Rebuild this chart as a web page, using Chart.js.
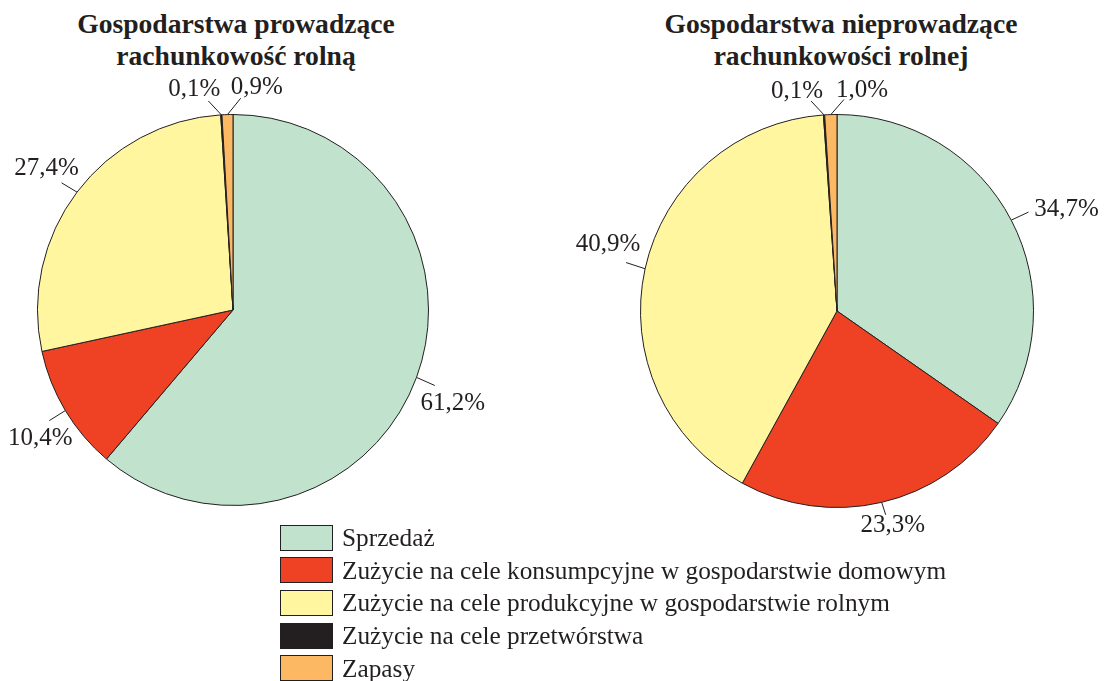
<!DOCTYPE html>
<html lang="pl">
<head>
  <meta charset="UTF-8">
  <title>Struktura rozdysponowania produkcji</title>
  <script src="https://cdn.jsdelivr.net/npm/chart.js"></script>
  <style>
    body {
      margin: 0;
      width: 1105px;
      height: 681px;
      background: #fff;
      color: #231f20;
      font-family: "Liberation Serif", "Times New Roman", serif;
      position: relative;
      overflow: hidden;
    }
    canvas { position: absolute; top: 0; }
    #leftChart { left: 0; }
    #rightChart { left: 552px; }
    .title {
      position: absolute;
      top: 8px;
      width: 440px;
      text-align: center;
      font-weight: bold;
      font-size: 27.6px;
      line-height: 32px;
    }
    .legend {
      position: absolute;
      left: 280px;
      top: 524px;
    }
    .legend-row {
      display: flex;
      align-items: center;
      height: 27px;
      margin-bottom: 5.7px;
      font-size: 25.3px;
      white-space: nowrap;
    }
    .legend-box {
      width: 51px;
      height: 24px;
      border: 1.5px solid #231f20;
      margin-right: 9px;
      flex: none;
    }
  </style>
</head>
<body>
  <div class="title" id="leftTitle" style="left:16px;"></div>
  <div class="title" id="rightTitle" style="left:621px;"></div>
  <canvas id="leftChart" width="552" height="681"></canvas>
  <canvas id="rightChart" width="553" height="681"></canvas>
  <div class="legend" id="legend"></div>

  <script>
    const categories = [
      "Sprzedaż",
      "Zużycie na cele konsumpcyjne w gospodarstwie domowym",
      "Zużycie na cele produkcyjne w gospodarstwie rolnym",
      "Zużycie na cele przetwórstwa",
      "Zapasy"
    ];
    const withAccounting = [61.2, 10.4, 27.4, 0.1, 0.9];
    const withoutAccounting = [34.7, 23.3, 40.9, 0.1, 1.0];
    const leftTitle = ["Gospodarstwa prowadzące", "rachunkowość rolną"];
    const rightTitle = ["Gospodarstwa nieprowadzące", "rachunkowości rolnej"];

    const colors = ["#c1e3cd", "#ef4123", "#fff69f", "#231f20", "#fdb863"];
    const ink = "#231f20";

    // leader direction (deg clockwise from up), leader length, text offset dx, dy
    const leftLabelLayout = [[114, 20, 18, 18], [238, 19, -9, 18], [301, 18, -15, -14], [317, 19, -14, -12], [39, 21, 16, -11]];
    const rightLabelLayout = [[65, 19, 38, -3], [162, 13, 7, 11], [288, 20, -18, -18], [317, 19, -14, -10], [41, 20, 18, -9]];

    document.getElementById("leftTitle").innerHTML = leftTitle.join("<br>");
    document.getElementById("rightTitle").innerHTML = rightTitle.join("<br>");

    const legend = document.getElementById("legend");
    categories.forEach((name, i) => {
      const row = document.createElement("div");
      row.className = "legend-row";
      const box = document.createElement("div");
      box.className = "legend-box";
      box.style.background = colors[i];
      const label = document.createElement("span");
      label.textContent = name;
      row.appendChild(box);
      row.appendChild(label);
      legend.appendChild(row);
    });

    const pieLabels = {
      id: "pieLabels",
      afterDatasetsDraw(chart, args, opts) {
        const ctx = chart.ctx;
        const meta = chart.getDatasetMeta(0);
        const values = chart.data.datasets[0].data;
        ctx.save();
        ctx.strokeStyle = ink;
        ctx.fillStyle = ink;
        ctx.lineWidth = 1;
        ctx.font = "25px 'Liberation Serif'";
        ctx.textAlign = "center";
        ctx.textBaseline = "middle";
        meta.data.forEach((arc, i) => {
          const p = arc.getProps(["x", "y", "startAngle", "endAngle", "outerRadius"], true);
          const mid = (p.startAngle + p.endAngle) / 2;
          const sx = p.x + Math.cos(mid) * p.outerRadius;
          const sy = p.y + Math.sin(mid) * p.outerRadius;
          const [dir, len, tdx, tdy] = opts.layout[i];
          const a = dir * Math.PI / 180;
          const ex = sx + Math.sin(a) * len;
          const ey = sy - Math.cos(a) * len;
          ctx.beginPath();
          ctx.moveTo(sx, sy);
          ctx.lineTo(ex, ey);
          ctx.stroke();
          const text = values[i].toFixed(1).replace(".", ",") + "%";
          ctx.fillText(text, ex + tdx, ey + tdy);
        });
        ctx.restore();
      }
    };

    function makePie(id, values, padding, layout) {
      return new Chart(document.getElementById(id), {
        type: "pie",
        data: {
          labels: categories,
          datasets: [{
            data: values,
            backgroundColor: colors,
            borderColor: ink,
            borderWidth: 1,
            hoverOffset: 0
          }]
        },
        options: {
          responsive: false,
          animation: false,
          devicePixelRatio: 1,
          layout: { padding: padding },
          plugins: {
            legend: { display: false },
            tooltip: { enabled: false },
            pieLabels: { layout: layout }
          }
        },
        plugins: [pieLabels]
      });
    }

    makePie("leftChart", withAccounting, { left: 37, top: 114, right: 123, bottom: 175 }, leftLabelLayout);
    makePie("rightChart", withoutAccounting, { left: 88, top: 114, right: 71, bottom: 173 }, rightLabelLayout);
  </script>
</body>
</html>
